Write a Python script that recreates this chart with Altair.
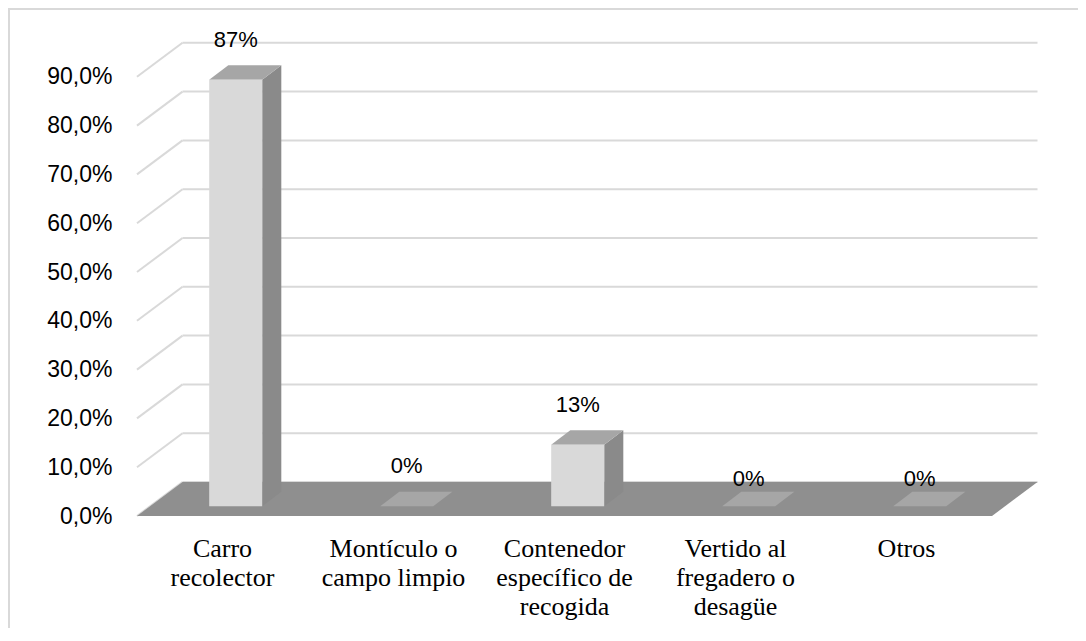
import altair as alt
import pandas as pd

# ---------------- data ----------------
categories = [
    "Carro\nrecolector",
    "Montículo o\ncampo limpio",
    "Contenedor\nespecífico de\nrecogida",
    "Vertido al\nfregadero o\ndesagüe",
    "Otros",
]
values = [87.4, 0.0, 12.6, 0.0, 0.0]          # percent
y_ticks = [0, 10, 20, 30, 40, 50, 60, 70, 80, 90]

# ---------------- layout / style constants ----------------
W, H = 1070, 620
PX_PER_CAT = 171.0
PX_PER_PCT = 4.88
CAT0_X = 214.5          # px of category 0 on the front plane
ZERO_Y = 508.0          # px of 0 % on the front plane
DXF = 45.5 / PX_PER_CAT  # full depth, x shift (category units)
DYF = 34.0 / PX_PER_PCT  # full depth, y shift (percent units)
BAR_D0, BAR_D1 = 0.29, 0.71
BAR_HALF = 0.155
LABEL_DY = [-40, -40, -40, -27, -27]

C_FRONT, C_TOP, C_SIDE = "#d9d9d9", "#a6a6a6", "#8a8a8a"
C_FLOOR, C_GRID = "#8f8f8f", "#d9d9d9"

xs = alt.Scale(domain=[-CAT0_X / PX_PER_CAT, (W - CAT0_X) / PX_PER_CAT], nice=False, zero=False)
ys = alt.Scale(domain=[(ZERO_Y - H) / PX_PER_PCT, ZERO_Y / PX_PER_PCT], nice=False, zero=False)

yaxis = alt.Axis(
    values=y_ticks,
    labelExpr="replace(format(datum.value/100, '.1%'), '.', ',')",
    domain=False, ticks=False, tickSize=0, grid=False,
    labelFont="Liberation Sans", labelFontSize=23, labelColor="#000000",
    labelPadding=0, offset=-104, title=None, labelAlign="right",
    labelBaseline="middle", labelOverlap=False, labelOffset=0,
)

def X(f):
    return alt.X(f, type="quantitative", scale=xs, axis=None)

def Y(f):
    return alt.Y(f, type="quantitative", scale=ys, axis=yaxis)

n = len(categories)
left, right = -0.5, n - 0.5

# back wall gridlines + side diagonals
grid_rows = []
for v in y_ticks:
    grid_rows.append(dict(x=left + DXF, x2=right + DXF, y=v + DYF, y2=v + DYF))
    grid_rows.append(dict(x=left, x2=left + DXF, y=v, y2=v + DYF))
grid_df = pd.DataFrame(grid_rows)

# floor
floor_df = pd.DataFrame([
    dict(x=left, y=0, y2=0),
    dict(x=left + DXF, y=0, y2=DYF),
    dict(x=right, y=0, y2=DYF),
    dict(x=right + DXF, y=DYF, y2=DYF),
])

# bars
bdx = (BAR_D1 - BAR_D0) * DXF
bdy = (BAR_D1 - BAR_D0) * DYF
base = BAR_D0 * DYF
front_rows, top_rows, side_rows, lab_rows = [], [], [], []
for i, (c, v) in enumerate(zip(categories, values)):
    cx = i + BAR_D0 * DXF
    x0, x1 = cx - BAR_HALF, cx + BAR_HALF
    t = base + v
    front_rows.append(dict(x=x0, x2=x1, y=base, y2=t))
    top_rows += [
        dict(face=i, x=x0, y=t, y2=t),
        dict(face=i, x=x0 + bdx, y=t, y2=t + bdy),
        dict(face=i, x=x1, y=t, y2=t + bdy),
        dict(face=i, x=x1 + bdx, y=t + bdy, y2=t + bdy),
    ]
    side_rows += [
        dict(face=i, x=x1, y=base, y2=t),
        dict(face=i, x=x1 + bdx, y=base + bdy, y2=t + bdy),
    ]
    lab_rows.append(dict(idx=i, x=cx, y=t, text=f"{v:.0f}%", cat=c, cx=i, cy=0))
front_df = pd.DataFrame(front_rows)
top_df = pd.DataFrame(top_rows)
side_df = pd.DataFrame(side_rows)
lab_df = pd.DataFrame(lab_rows)

grid = alt.Chart(grid_df).mark_rule(color=C_GRID, strokeWidth=2).encode(
    x=X("x"), x2="x2", y=Y("y"), y2="y2")

floor = alt.Chart(floor_df).mark_area(color=C_FLOOR, opacity=1).encode(
    x=X("x"), y=Y("y"), y2="y2")

side = alt.Chart(side_df).mark_area(color=C_SIDE, opacity=1).encode(
    x=X("x"), y=Y("y"), y2="y2", detail="face:N")

top = alt.Chart(top_df).mark_area(color=C_TOP, opacity=1).encode(
    x=X("x"), y=Y("y"), y2="y2", detail="face:N")

front = alt.Chart(front_df).mark_rect(color=C_FRONT).encode(
    x=X("x"), x2="x2", y=Y("y"), y2="y2")

val_layers = []
for dy in sorted(set(LABEL_DY)):
    idxs = [i for i, d in enumerate(LABEL_DY) if d == dy]
    val_layers.append(
        alt.Chart(lab_df).transform_filter(
            alt.FieldOneOfPredicate(field="idx", oneOf=idxs)
        ).mark_text(font="Liberation Sans", fontSize=22, color="#000000",
                    baseline="middle", align="center", dy=dy).encode(
            x=X("x"), y=Y("y"), text="text:N")
    )

cat_text = alt.Chart(lab_df).mark_text(
    font="Liberation Serif", fontSize=26, color="#000000", lineBreak="\n",
    lineHeight=29, baseline="alphabetic", align="center", dy=41).encode(
    x=X("cx"), y=Y("cy"), text="cat:N")

frame_df = pd.DataFrame({"k": [0]})
frame_left = alt.Chart(frame_df).mark_rule(color=C_GRID, strokeWidth=2).encode(
    x=alt.value(1), y=alt.value(0), y2=alt.value(H))
frame_top = alt.Chart(frame_df).mark_rule(color=C_GRID, strokeWidth=2).encode(
    x=alt.value(0), x2=alt.value(W), y=alt.value(1))

chart = alt.layer(
    grid, floor, side, top, front, *val_layers, cat_text, frame_left, frame_top
).properties(
    width=W, height=H, autosize=alt.AutoSizeParams(type="none"), padding=0,
    background="white",
).configure_view(stroke=None)

chart.save("out.html", embed_options={"renderer": "svg", "actions": False})
